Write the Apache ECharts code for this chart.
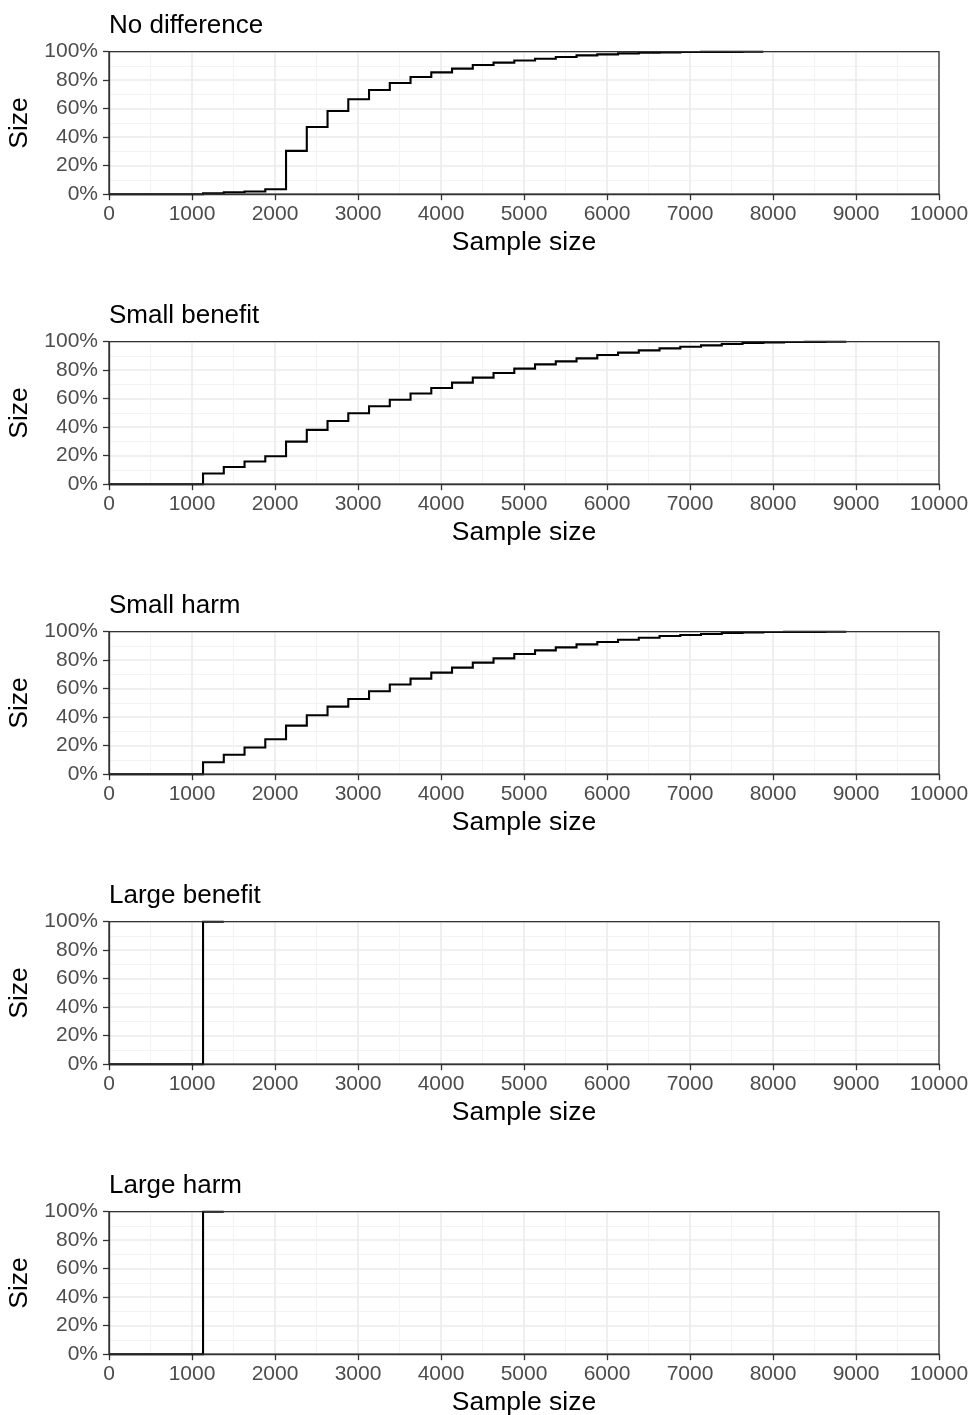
<!DOCTYPE html>
<html>
<head>
<meta charset="utf-8">
<script src="https://cdn.jsdelivr.net/npm/echarts@6/dist/echarts.min.js"></script>
<style>
html,body{margin:0;padding:0;background:#fff;}
#chart{width:973px;height:1415px;}
</style>
</head>
<body>
<div id="chart"></div>
<script>
// ---- data ----
const panelTitles = ["No difference", "Small benefit", "Small harm", "Large benefit", "Large harm"];
const xTicks = [0, 1000, 2000, 3000, 4000, 5000, 6000, 7000, 8000, 9000, 10000];
const yTicks = [0, 20, 40, 60, 80, 100];

const noDiffX = [0, 1133, 1383, 1633, 1883, 2133, 2383, 2633, 2883, 3133, 3383, 3633, 3883, 4133, 4383, 4633, 4883, 5133, 5383, 5633, 5883, 6133, 6383, 6633, 6883, 7133, 7383, 7633, 7883];
const noDiffY = [0, 0.7, 1.4, 1.9, 3.5, 30.4, 47.2, 58.4, 66.6, 73.1, 78.0, 82.2, 85.5, 88.1, 90.7, 92.3, 93.8, 95.1, 96.3, 97.4, 98.1, 98.8, 99.3, 99.5, 99.8, 99.9, 99.9, 100, 100];

const smallBenefitX = [0, 1133, 1383, 1633, 1883, 2133, 2383, 2633, 2883, 3133, 3383, 3633, 3883, 4133, 4383, 4633, 4883, 5133, 5383, 5633, 5883, 6133, 6383, 6633, 6883, 7133, 7383, 7633, 7883, 8133, 8383, 8633, 8883];
const smallBenefitY = [0, 7.5, 12.1, 15.9, 19.6, 29.9, 38.1, 44.4, 49.8, 54.7, 59.3, 63.6, 67.5, 71.3, 74.8, 78.0, 81.1, 84.1, 86.2, 88.3, 90.7, 92.3, 93.9, 95.3, 96.5, 97.4, 98.4, 99.1, 99.5, 99.8, 99.9, 100, 100];

const smallHarmX = [0, 1133, 1383, 1633, 1883, 2133, 2383, 2633, 2883, 3133, 3383, 3633, 3883, 4133, 4383, 4633, 4883, 5133, 5383, 5633, 5883, 6133, 6383, 6633, 6883, 7133, 7383, 7633, 7883, 8133, 8383, 8633, 8883];
const smallHarmY = [0, 8.4, 13.6, 18.7, 24.5, 34.1, 41.4, 47.4, 52.8, 58.2, 62.9, 67.1, 71.3, 74.8, 78.3, 81.3, 84.3, 86.9, 89.0, 91.1, 92.8, 94.4, 95.8, 97.0, 97.7, 98.4, 99.1, 99.4, 99.8, 99.9, 99.9, 100, 100];

const largeBenefitX = [0, 1133, 1383];
const largeBenefitY = [0, 100, 100];

const largeHarmX = [0, 1133, 1383];
const largeHarmY = [0, 100, 100];

// ---- build ----
const seriesX = [noDiffX, smallBenefitX, smallHarmX, largeBenefitX, largeHarmX];
const seriesY = [noDiffY, smallBenefitY, smallHarmY, largeBenefitY, largeHarmY];

const FONT = "'Liberation Sans', Arial, sans-serif";
const LEFT = 109, WIDTH = 830, HEIGHT = 142.5, FIRST_TOP = 51.7, STEP = 290;

const grids = [], xAxes = [], yAxes = [], series = [], titles = [];
panelTitles.forEach((t, i) => {
  const top = FIRST_TOP + i * STEP;
  const xs = seriesX[i], ys = seriesY[i];
  grids.push({left: LEFT, top: top, width: WIDTH, height: HEIGHT, show: true, z: 5,
    outerBoundsMode: 'none', containLabel: false,
    borderColor: '#333333', borderWidth: 1.3, backgroundColor: 'transparent'});
  titles.push({text: t, left: LEFT, top: top - 39, padding: 0,
    textStyle: {fontFamily: FONT, fontSize: 26, fontWeight: 'normal', color: '#000'}});
  xAxes.push({type: 'value', gridIndex: i, min: xTicks[0], max: xTicks[xTicks.length - 1], interval: 1000,
    name: 'Sample size', nameLocation: 'middle', nameGap: 35,
    nameTextStyle: {fontFamily: FONT, fontSize: 26.5, color: '#000'},
    axisLine: {show: true, onZero: false, lineStyle: {color: '#333333', width: 1.3}},
    axisTick: {show: true, length: 6, lineStyle: {color: '#333333', width: 1.3}},
    axisLabel: {fontFamily: FONT, fontSize: 21, color: '#4D4D4D', margin: 10, hideOverlap: false,
      showMinLabel: true, showMaxLabel: true,
      formatter: v => xTicks.includes(v) ? String(v) : ''},
    splitLine: {show: true, lineStyle: {color: '#EBEBEB', width: 1.6}},
    minorTick: {show: false, splitNumber: 2},
    minorSplitLine: {show: true, lineStyle: {color: '#F2F2F2', width: 0.9}}
  });
  yAxes.push({type: 'value', gridIndex: i, min: yTicks[0], max: yTicks[yTicks.length - 1], interval: 20,
    name: 'Size', nameLocation: 'middle', nameGap: 69,
    nameTextStyle: {fontFamily: FONT, fontSize: 26.5, color: '#000'},
    axisLine: {show: true, onZero: false, lineStyle: {color: '#333333', width: 1.3}},
    axisTick: {show: true, length: 6, lineStyle: {color: '#333333', width: 1.3}},
    axisLabel: {fontFamily: FONT, fontSize: 21, color: '#4D4D4D', margin: 11,
      showMinLabel: true, showMaxLabel: true,
      formatter: v => yTicks.includes(v) ? v + '%' : ''},
    splitLine: {show: true, lineStyle: {color: '#EBEBEB', width: 1.6}},
    minorTick: {show: false, splitNumber: 2},
    minorSplitLine: {show: true, lineStyle: {color: '#F2F2F2', width: 0.9}}
  });
  series.push({type: 'custom', coordinateSystem: 'cartesian2d', xAxisIndex: i, yAxisIndex: i,
    silent: true,
    data: xs.map((x, k) => [x, ys[k]]),
    renderItem: function (params, api) {
      if (params.dataIndex !== 0) return null;
      const pts = [api.coord([xs[0], ys[0]])];
      for (let k = 1; k < xs.length; k++) {
        pts.push(api.coord([xs[k], ys[k - 1]]));
        pts.push(api.coord([xs[k], ys[k]]));
      }
      return {type: 'polyline', shape: {points: pts},
        style: {stroke: '#000', lineWidth: 2.1, fill: null, lineJoin: 'miter'}};
    }
  });
});

const chart = echarts.init(document.getElementById('chart'), null, {renderer: 'canvas'});
chart.setOption({
  animation: false,
  backgroundColor: '#fff',
  title: titles,
  grid: grids,
  xAxis: xAxes,
  yAxis: yAxes,
  series: series
});
</script>
</body>
</html>
